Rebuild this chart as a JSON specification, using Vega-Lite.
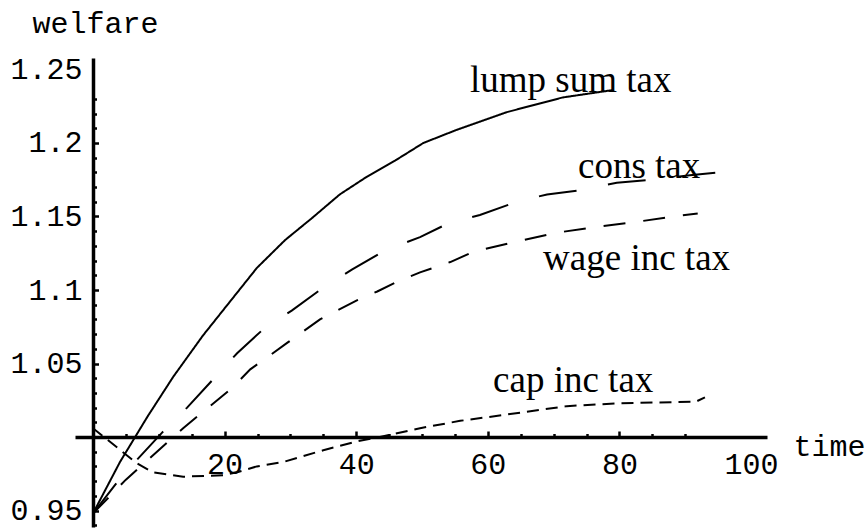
{
  "$schema": "https://vega.github.io/schema/vega-lite/v6.json",
  "width": 692,
  "height": 469,
  "autosize": {"type": "none"},
  "padding": {"left": 75, "top": 58, "right": 100, "bottom": 2},
  "background": "white",
  "config": {
    "view": {"stroke": null},
    "axis": {
      "grid": false, "domainColor": "black", "domainWidth": 3.5, "tickColor": "black", "tickWidth": 2.5,
      "labelFont": "Liberation Mono", "labelFontSize": 30, "labelColor": "black",
      "labelOverlap": false, "labelFlush": false, "labelBound": false,
      "titleFont": "Liberation Mono", "titleFontSize": 30, "titleFontWeight": "normal", "titleColor": "black"
    }
  },
  "resolve": {"scale": {"x": "independent", "y": "independent"}, "axis": {"x": "independent", "y": "independent"}},
  "datasets": {
    "curves": [
      {"series": "lump sum tax", "t": 0, "w": 0.948},
      {"series": "lump sum tax", "t": 4.1, "w": 0.983},
      {"series": "lump sum tax", "t": 8.3, "w": 1.014},
      {"series": "lump sum tax", "t": 12.2, "w": 1.041},
      {"series": "lump sum tax", "t": 16.7, "w": 1.069},
      {"series": "lump sum tax", "t": 20.8, "w": 1.092},
      {"series": "lump sum tax", "t": 24.9, "w": 1.115},
      {"series": "lump sum tax", "t": 29.2, "w": 1.134},
      {"series": "lump sum tax", "t": 33.3, "w": 1.149},
      {"series": "lump sum tax", "t": 37.5, "w": 1.165},
      {"series": "lump sum tax", "t": 41.6, "w": 1.177},
      {"series": "lump sum tax", "t": 45.9, "w": 1.188},
      {"series": "lump sum tax", "t": 50.2, "w": 1.2},
      {"series": "lump sum tax", "t": 55.3, "w": 1.209},
      {"series": "lump sum tax", "t": 62.9, "w": 1.221},
      {"series": "lump sum tax", "t": 71.4, "w": 1.231},
      {"series": "lump sum tax", "t": 79.0, "w": 1.236},
      {"series": "cons tax", "t": 0, "w": 0.948},
      {"series": "cons tax", "t": 4.5, "w": 0.974},
      {"series": "cons tax", "t": 10.5, "w": 1.003},
      {"series": "cons tax", "t": 14.3, "w": 1.02},
      {"series": "cons tax", "t": 18.2, "w": 1.039},
      {"series": "cons tax", "t": 21.9, "w": 1.057},
      {"series": "cons tax", "t": 25.8, "w": 1.073},
      {"series": "cons tax", "t": 30.2, "w": 1.086},
      {"series": "cons tax", "t": 34.8, "w": 1.101},
      {"series": "cons tax", "t": 39.4, "w": 1.114},
      {"series": "cons tax", "t": 44.4, "w": 1.127},
      {"series": "cons tax", "t": 49.7, "w": 1.136},
      {"series": "cons tax", "t": 54.3, "w": 1.146},
      {"series": "cons tax", "t": 58.8, "w": 1.151},
      {"series": "cons tax", "t": 64.4, "w": 1.16},
      {"series": "cons tax", "t": 69.0, "w": 1.165},
      {"series": "cons tax", "t": 74.3, "w": 1.168},
      {"series": "cons tax", "t": 79.6, "w": 1.173},
      {"series": "cons tax", "t": 84.7, "w": 1.175},
      {"series": "cons tax", "t": 90.7, "w": 1.178},
      {"series": "cons tax", "t": 95.3, "w": 1.18},
      {"series": "wage inc tax", "t": 0, "w": 0.948},
      {"series": "wage inc tax", "t": 5.0, "w": 0.971},
      {"series": "wage inc tax", "t": 11.7, "w": 0.998},
      {"series": "wage inc tax", "t": 13.7, "w": 1.006},
      {"series": "wage inc tax", "t": 21.3, "w": 1.034},
      {"series": "wage inc tax", "t": 23.9, "w": 1.046},
      {"series": "wage inc tax", "t": 26.4, "w": 1.054},
      {"series": "wage inc tax", "t": 29.5, "w": 1.064},
      {"series": "wage inc tax", "t": 34.5, "w": 1.08},
      {"series": "wage inc tax", "t": 40.1, "w": 1.093},
      {"series": "wage inc tax", "t": 43.2, "w": 1.099},
      {"series": "wage inc tax", "t": 45.9, "w": 1.105},
      {"series": "wage inc tax", "t": 49.7, "w": 1.112},
      {"series": "wage inc tax", "t": 54.3, "w": 1.119},
      {"series": "wage inc tax", "t": 57.8, "w": 1.126},
      {"series": "wage inc tax", "t": 63.4, "w": 1.132},
      {"series": "wage inc tax", "t": 70.5, "w": 1.139},
      {"series": "wage inc tax", "t": 76.6, "w": 1.143},
      {"series": "wage inc tax", "t": 82.1, "w": 1.146},
      {"series": "wage inc tax", "t": 88.1, "w": 1.15},
      {"series": "wage inc tax", "t": 91.9, "w": 1.152},
      {"series": "cap inc tax", "t": 0, "w": 1.006},
      {"series": "cap inc tax", "t": 6.7, "w": 0.982},
      {"series": "cap inc tax", "t": 9.1, "w": 0.976},
      {"series": "cap inc tax", "t": 13.7, "w": 0.973},
      {"series": "cap inc tax", "t": 19.8, "w": 0.974},
      {"series": "cap inc tax", "t": 21.9, "w": 0.976},
      {"series": "cap inc tax", "t": 24.9, "w": 0.98},
      {"series": "cap inc tax", "t": 28.9, "w": 0.983},
      {"series": "cap inc tax", "t": 35.0, "w": 0.991},
      {"series": "cap inc tax", "t": 40.1, "w": 0.997},
      {"series": "cap inc tax", "t": 43.6, "w": 1.0},
      {"series": "cap inc tax", "t": 49.7, "w": 1.006},
      {"series": "cap inc tax", "t": 55.8, "w": 1.011},
      {"series": "cap inc tax", "t": 62.4, "w": 1.015},
      {"series": "cap inc tax", "t": 72.0, "w": 1.021},
      {"series": "cap inc tax", "t": 80.0, "w": 1.023},
      {"series": "cap inc tax", "t": 91.6, "w": 1.024},
      {"series": "cap inc tax", "t": 93.0, "w": 1.027}
    ],
    "labels": [
      {"label": "lump sum tax", "t": 57.3, "w": 1.2347},
      {"label": "cons tax", "t": 73.7, "w": 1.1762},
      {"label": "wage inc tax", "t": 68.4, "w": 1.1136},
      {"label": "cap inc tax", "t": 60.8, "w": 1.0306}
    ]
  },
  "layer": [
    {
      "data": {"name": "curves"},
      "mark": {"type": "line", "color": "black", "strokeWidth": 2, "strokeCap": "butt"},
      "encoding": {
        "x": {
          "field": "t", "type": "quantitative",
          "scale": {"domain": [-2.736, 102.43], "nice": false, "zero": false},
          "axis": {
            "orient": "bottom", "offset": -90,
            "values": [20, 40, 60, 80, 100], "format": "d",
            "ticks": false, "labelPadding": 12,
            "title": "time", "titleAlign": "left", "titleBaseline": "alphabetic", "titleAngle": 0,
            "titleX": 718, "titleY": 18
          }
        },
        "y": {
          "field": "w", "type": "quantitative",
          "scale": {"domain": [0.93878, 1.25782], "nice": false, "zero": false},
          "axis": {
            "orient": "left", "offset": -18,
            "values": [0.95, 1.05, 1.1, 1.15, 1.2, 1.25], "format": ".3~g",
            "ticks": false, "labelPadding": 11,
            "title": "welfare", "titleAlign": "left", "titleBaseline": "alphabetic", "titleAngle": 0,
            "titleX": -61, "titleY": -26
          }
        },
        "detail": {"field": "series"},
        "strokeDash": {
          "field": "series", "type": "nominal",
          "scale": {
            "domain": ["lump sum tax", "cons tax", "wage inc tax", "cap inc tax"],
            "range": [[1, 0], [38, 32], [22, 18], [12, 7]]
          },
          "legend": null
        }
      }
    },
    {
      "data": {"name": "labels"},
      "mark": {"type": "text", "align": "left", "baseline": "alphabetic", "font": "Liberation Serif", "fontSize": 37, "color": "black"},
      "encoding": {
        "x": {
          "field": "t", "type": "quantitative",
          "scale": {"domain": [-2.736, 102.43], "nice": false, "zero": false},
          "axis": {"orient": "bottom", "offset": -90, "values": [20, 40, 60, 80], "domain": false, "labels": false, "tickSize": -6, "title": null}
        },
        "y": {
          "field": "w", "type": "quantitative",
          "scale": {"domain": [0.93878, 1.25782], "nice": false, "zero": false},
          "axis": {"orient": "left", "offset": -18, "values": [0.95, 1.05, 1.1, 1.15, 1.2], "domain": false, "labels": false, "tickSize": -5.5, "title": null}
        },
        "text": {"field": "label"}
      }
    },
    {
      "data": {"name": "curves"},
      "mark": {"type": "point", "opacity": 0},
      "encoding": {
        "x": {
          "field": "t", "type": "quantitative",
          "scale": {"domain": [-2.736, 102.43], "nice": false, "zero": false},
          "axis": {"orient": "bottom", "offset": -90, "values": [5, 10, 15, 25, 30, 35, 45, 50, 55, 65, 70, 75, 85, 90], "domain": false, "labels": false, "tickSize": -3.5, "title": null}
        },
        "y": {
          "field": "w", "type": "quantitative",
          "scale": {"domain": [0.93878, 1.25782], "nice": false, "zero": false},
          "axis": {"orient": "left", "offset": -18, "values": [0.94, 0.96, 0.97, 0.98, 0.99, 1.01, 1.02, 1.03, 1.04, 1.06, 1.07, 1.08, 1.09, 1.11, 1.12, 1.13, 1.14, 1.16, 1.17, 1.18, 1.19, 1.21, 1.22, 1.23], "domain": false, "labels": false, "tickSize": -3.5, "title": null}
        }
      }
    }
  ]
}
